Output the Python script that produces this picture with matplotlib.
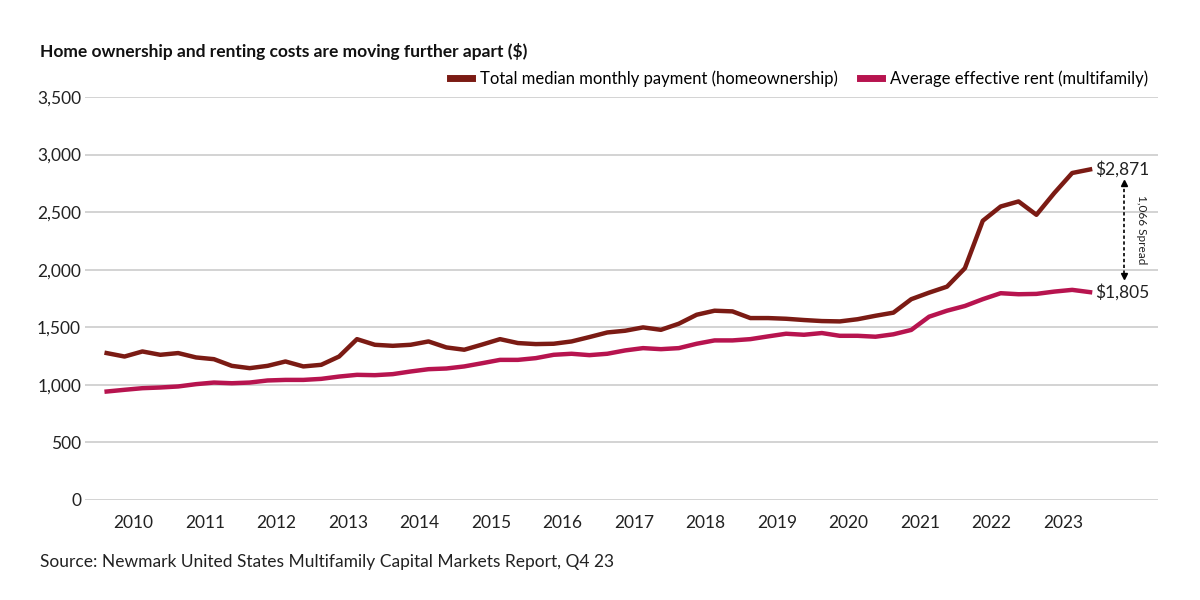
import matplotlib.pyplot as plt

plt.rcParams['font.family'] = ['Lato', 'DejaVu Sans']

years = list(range(2010, 2024))

# quarterly values, Q1 2010 to Q4 2023
owner = [1276, 1246, 1290, 1261, 1276, 1238, 1223, 1165,
         1145, 1165, 1203, 1160, 1174, 1246, 1397, 1348,
         1339, 1348, 1377, 1325, 1305, 1350, 1397, 1363,
         1354, 1357, 1377, 1415, 1455, 1470, 1499, 1478,
         1531, 1609, 1644, 1638, 1580, 1580, 1574, 1563,
         1554, 1551, 1570, 1600, 1627, 1744, 1801, 1853,
         2013, 2425, 2549, 2593, 2477, 2666, 2840, 2871]
rent = [942, 957, 971, 977, 986, 1006, 1020, 1014,
        1020, 1038, 1043, 1043, 1052, 1072, 1087, 1084,
        1093, 1116, 1136, 1142, 1160, 1188, 1217, 1217,
        1232, 1261, 1270, 1258, 1270, 1299, 1319, 1310,
        1319, 1357, 1386, 1386, 1397, 1421, 1444, 1435,
        1450, 1426, 1426, 1418, 1439, 1477, 1592, 1644,
        1685, 1744, 1796, 1787, 1790, 1810, 1825, 1805]

owner_color = '#7b1b14'
rent_color = '#b7144f'
fs = 12.5

fig = plt.figure(figsize=(12, 6), dpi=100)
ax = fig.add_axes([0.071, 0.1667, 0.894, 0.6716])

q = list(range(len(owner)))
ax.plot(q, owner, color=owner_color, lw=3.2, solid_joinstyle='round',
        label='Total median monthly payment (homeownership)')
ax.plot(q, rent, color=rent_color, lw=3.2, solid_joinstyle='round',
        label='Average effective rent (multifamily)')

ax.set_ylim(0, 3500)
ax.set_xlim(-1.2, 58.8)
ax.set_yticks(range(0, 3501, 500))
ax.set_yticklabels([f'{v:,}' for v in range(0, 3501, 500)], fontsize=fs, color='#222222')
ax.set_xticks([1.5 + 4 * i for i in range(len(years))])
ax.set_xticklabels([str(y) for y in years], fontsize=fs, color='#222222')
ax.tick_params(length=0, pad=11)
ax.tick_params(axis='y', pad=3)
ax.grid(axis='y', color='#cccccc', lw=1.2)
ax.set_axisbelow(True)
for s in ax.spines.values():
    s.set_visible(False)

# end labels
last = len(owner) - 1
ax.text(last + 0.3, owner[-1], f'${owner[-1]:,}', fontsize=fs, va='center', color='#222222')
ax.text(last + 0.3, rent[-1], f'${rent[-1]:,}', fontsize=fs, va='center', color='#222222')

# spread arrow
ax_x = 56.9
top = owner[-1] - 120
bot = rent[-1] + 140
ax.plot([ax_x, ax_x], [top, bot], color='black', lw=1.2, ls=(0, (2, 1.5)))
ax.plot([ax_x], [top], marker='^', color='black', ms=4.5)
ax.plot([ax_x], [bot], marker='v', color='black', ms=4.5)
ax.text(ax_x + 1.0, (top + bot) / 2, f'{owner[-1] - rent[-1]:,} Spread', rotation=270,
        fontsize=8.5, va='center', ha='center', color='#222222')

leg = ax.legend(loc='lower right', bbox_to_anchor=(1.0, 1.0), ncol=2, frameon=False,
                fontsize=12, handlelength=1.3, handletextpad=0.5, columnspacing=1.3,
                borderaxespad=0.2)
for h in leg.get_lines():
    h.set_linewidth(5)

fig.text(0.033, 0.915, 'Home ownership and renting costs are moving further apart ($)',
         fontsize=fs, fontweight='bold', color='#111111', va='center')
fig.text(0.033, 0.063, 'Source: Newmark United States Multifamily Capital Markets Report, Q4 23',
         fontsize=fs, color='#222222', va='center')

fig.savefig('out.png', dpi=100)
